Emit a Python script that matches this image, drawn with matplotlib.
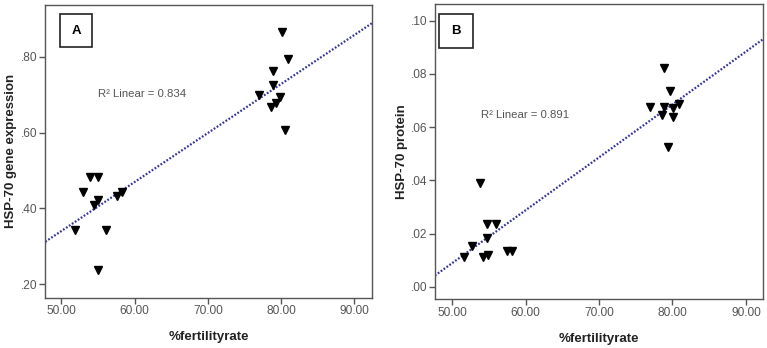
import numpy as np
import matplotlib
matplotlib.use("Agg")
import matplotlib.pyplot as plt
from matplotlib.ticker import FuncFormatter
from matplotlib.patches import Rectangle

# ---- data ----
fert_a = [80.2, 81.0, 78.95, 78.95, 77.0, 79.8, 79.3, 78.6, 80.5,
          53.9, 55.0, 53.0, 55.0, 54.5, 57.6, 58.3, 51.8, 56.1, 55.0]
gene_a = [0.864, 0.793, 0.763, 0.724, 0.699, 0.693, 0.677, 0.667, 0.607,
          0.483, 0.483, 0.443, 0.422, 0.410, 0.434, 0.443, 0.343, 0.343, 0.239]

fert_b = [78.9, 79.6, 76.9, 78.9, 80.9, 80.1, 78.6, 80.1, 79.35,
          53.75, 54.8, 55.9, 54.8, 52.75, 51.6, 54.2, 54.9, 57.4, 58.1]
prot_b = [0.0823, 0.0736, 0.0677, 0.0677, 0.0686, 0.0671, 0.0645, 0.0639, 0.0526,
          0.0391, 0.0235, 0.0235, 0.0182, 0.0153, 0.0111, 0.0111, 0.0119, 0.0134, 0.0134]

x_ticks = [50, 60, 70, 80, 90]
yticks_a = [0.2, 0.4, 0.6, 0.8]
yticks_b = [0.0, 0.02, 0.04, 0.06, 0.08, 0.10]
r2_a = "0.834"
r2_b = "0.891"

plt.rcParams['font.family'] = ['Liberation Sans', 'DejaVu Sans']

fig = plt.figure(figsize=(7.67, 3.48), dpi=100)
ax_a = fig.add_axes([0.0591, 0.1445, 0.4256, 0.841])
ax_b = fig.add_axes([0.5671, 0.1408, 0.428, 0.8477])

frame_col = '#555555'
tick_col = '#555555'
line_col = '#34349a'

def yfmt(v, pos):
    s = f"{v:.2f}"
    if s.startswith("0"):
        s = s[1:]
    return s

def style(ax, xs, ys, xlim, ylim, yticks, ylabel, letter, box, r2, r2pos, ylpad):
    ax.set_xlim(*xlim)
    ax.set_ylim(*ylim)
    # fit line
    k, b = np.polyfit(xs, ys, 1)
    xx = np.array(xlim)
    ax.plot(xx, k * xx + b, color=line_col, lw=1.6, linestyle=(0, (0.8, 0.8)), zorder=2)
    ax.plot(xs, ys, linestyle='none', marker='v', ms=5.5, color='black', zorder=3)
    ax.set_xticks(x_ticks)
    ax.set_yticks(yticks)
    ax.xaxis.set_major_formatter(FuncFormatter(lambda v, p: f"{v:.2f}"))
    ax.yaxis.set_major_formatter(FuncFormatter(yfmt))
    ax.tick_params(direction='out', length=4, width=1, color=frame_col,
                   labelcolor=tick_col, labelsize=8.6, pad=1.5)
    for sp in ax.spines.values():
        sp.set_color(frame_col)
        sp.set_linewidth(1.0)
    ax.set_xlabel('%fertilityrate', fontsize=9.5, fontweight='bold', color='#222222', labelpad=10)
    ax.set_ylabel(ylabel, fontsize=9.5, fontweight='bold', color='#222222', labelpad=ylpad)
    x0, x1, y0, y1 = box
    ax.add_patch(Rectangle((x0, y0), x1 - x0, y1 - y0, transform=ax.transAxes,
                           fill=True, facecolor='white', edgecolor='#222222', lw=1.2, zorder=4))
    ax.text((x0 + x1) / 2, (y0 + y1) / 2, letter, transform=ax.transAxes,
            ha='center', va='center', fontsize=9.5, fontweight='bold', zorder=5)
    ax.text(r2pos[0], r2pos[1], "R² Linear = " + r2, ha='left', va='center',
            fontsize=8.2, color='#555555', zorder=5)

style(ax_a, fert_a, gene_a, (47.8, 92.4), (0.1647, 0.936), yticks_a,
      'HSP-70 gene expression', 'A', (0.045, 0.144, 0.855, 0.969), r2_a, (55.06, 0.701), 3)
style(ax_b, fert_b, prot_b, (47.65, 92.36), (-0.0046, 0.1063), yticks_b,
      'HSP-70 protein', 'B', (0.013, 0.1167, 0.852, 0.965), r2_b, (53.97, 0.0644), 2)

fig.savefig('out.png', dpi=100)
